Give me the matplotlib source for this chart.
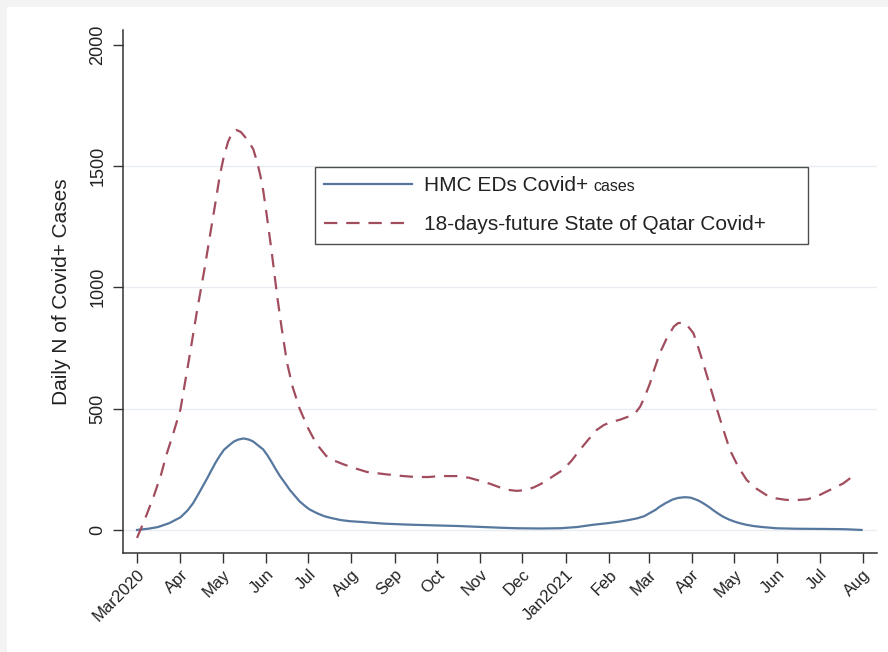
import matplotlib
matplotlib.use("Agg")
import matplotlib.pyplot as plt
from matplotlib.patches import Rectangle
import pandas as pd

# ---------------- data ----------------
hmc_dates = ["2020-03-01", "2020-03-09", "2020-03-16", "2020-03-24", "2020-04-01",
             "2020-04-06", "2020-04-10", "2020-04-14", "2020-04-17", "2020-04-20",
             "2020-04-23", "2020-04-26", "2020-04-29", "2020-05-02", "2020-05-06",
             "2020-05-09", "2020-05-12", "2020-05-16", "2020-05-20", "2020-05-23",
             "2020-05-26", "2020-05-30", "2020-06-02", "2020-06-05", "2020-06-08",
             "2020-06-11", "2020-06-15", "2020-06-18", "2020-06-22", "2020-06-25",
             "2020-06-29", "2020-07-02", "2020-07-06", "2020-07-09", "2020-07-13",
             "2020-07-17", "2020-07-24", "2020-07-31", "2020-08-08", "2020-08-24",
             "2020-09-10", "2020-09-28", "2020-10-17", "2020-11-03", "2020-11-16",
             "2020-11-27", "2020-12-13", "2020-12-28", "2021-01-09", "2021-01-20",
             "2021-01-31", "2021-02-09", "2021-02-15", "2021-02-21", "2021-02-26",
             "2021-03-02", "2021-03-06", "2021-03-09", "2021-03-13", "2021-03-18",
             "2021-03-22", "2021-03-27", "2021-03-31", "2021-04-03", "2021-04-06",
             "2021-04-09", "2021-04-13", "2021-04-16", "2021-04-19", "2021-04-23",
             "2021-04-27", "2021-05-01", "2021-05-05", "2021-05-10", "2021-05-15",
             "2021-05-21", "2021-05-31", "2021-06-14", "2021-07-06", "2021-07-19",
             "2021-07-31"]
hmc_values = [0, 5, 12, 28, 52,
              80, 110, 150, 181, 212,
              245, 277, 305, 330, 350,
              364, 372, 377, 372, 364,
              350, 332, 308, 280, 250,
              222, 190, 165, 138, 118,
              98, 85, 73, 65, 56,
              50, 41, 36, 33, 26,
              22, 19, 16, 12, 9,
              7, 6, 7, 12, 21,
              28, 35, 41, 48, 57,
              70, 83, 96, 110, 125,
              132, 135, 133, 127, 120,
              110, 95, 82, 70, 55,
              44, 35, 28, 21, 16,
              12, 7, 5, 4, 3,
              0]

qatar_dates = ["2020-03-01", "2020-03-07", "2020-03-13", "2020-03-18", "2020-03-22",
               "2020-03-27", "2020-04-01", "2020-04-07", "2020-04-13", "2020-04-18",
               "2020-04-22", "2020-04-26", "2020-04-29", "2020-05-02", "2020-05-05",
               "2020-05-08", "2020-05-11", "2020-05-14", "2020-05-17", "2020-05-20",
               "2020-05-23", "2020-05-26", "2020-05-28", "2020-05-30", "2020-06-01",
               "2020-06-05", "2020-06-09", "2020-06-12", "2020-06-16", "2020-06-20",
               "2020-06-25", "2020-07-01", "2020-07-07", "2020-07-14", "2020-07-20",
               "2020-07-26", "2020-08-03", "2020-08-12", "2020-08-26", "2020-09-07",
               "2020-09-16", "2020-09-25", "2020-10-03", "2020-10-15", "2020-10-24",
               "2020-11-01", "2020-11-08", "2020-11-15", "2020-11-21", "2020-11-27",
               "2020-12-03", "2020-12-09", "2020-12-16", "2020-12-23", "2020-12-30",
               "2021-01-05", "2021-01-11", "2021-01-17", "2021-01-23", "2021-01-28",
               "2021-02-01", "2021-02-09", "2021-02-16", "2021-02-20", "2021-02-23",
               "2021-02-26", "2021-03-02", "2021-03-05", "2021-03-09", "2021-03-14",
               "2021-03-19", "2021-03-22", "2021-03-26", "2021-03-29", "2021-04-02",
               "2021-04-05", "2021-04-09", "2021-04-14", "2021-04-19", "2021-04-23",
               "2021-04-28", "2021-05-04", "2021-05-10", "2021-05-17", "2021-05-24",
               "2021-05-31", "2021-06-07", "2021-06-14", "2021-06-22", "2021-06-29",
               "2021-07-06", "2021-07-12", "2021-07-18", "2021-07-26"]
qatar_values = [-33, 50, 140, 225, 310,
                400, 497, 700, 909, 1070,
                1211, 1350, 1458, 1540, 1600,
                1638, 1648, 1640, 1620, 1598,
                1568, 1510, 1460, 1400, 1321,
                1150, 964, 840, 690, 590,
                500, 420, 355, 305, 285,
                271, 255, 239, 229, 222,
                218, 218, 222, 222, 215,
                202, 190, 175, 165, 161,
                164, 175, 195, 222, 248,
                285, 330, 372, 412, 432,
                442, 455, 470, 485, 508,
                545, 604, 660, 728, 790,
                838, 852, 855, 840, 811,
                760, 687, 590, 494, 420,
                330, 260, 206, 170, 144,
                130, 124, 123, 126, 138,
                158, 175, 192, 227]

tick_dates = ["2020-03-01", "2020-04-01", "2020-05-01", "2020-06-01", "2020-07-01",
              "2020-08-01", "2020-09-01", "2020-10-01", "2020-11-01", "2020-12-01",
              "2021-01-01", "2021-02-01", "2021-03-01", "2021-04-01", "2021-05-01",
              "2021-06-01", "2021-07-01", "2021-08-01"]
tick_labels = ["Mar2020", "Apr", "May", "Jun", "Jul", "Aug", "Sep", "Oct", "Nov",
               "Dec", "Jan2021", "Feb", "Mar", "Apr", "May", "Jun", "Jul", "Aug"]
y_ticks = [0, 500, 1000, 1500, 2000]
grid_values = [0, 500, 1000, 1500]

series1_label = "HMC EDs Covid+"
series1_suffix = "cases"
series2_label = "18-days-future State of Qatar Covid+"
y_label = "Daily N of Covid+ Cases"

# ---------------- plotting ----------------
plt.rcParams["font.family"] = ["Liberation Sans", "DejaVu Sans"]

W, H = 888, 652
fig = plt.figure(figsize=(W / 100, H / 100), dpi=100)
fig.patch.set_facecolor("#f3f3f3")
fig.patches.append(Rectangle((7 / W, 0), 1, 1 - 7 / H, transform=fig.transFigure,
                             facecolor="white", edgecolor="none", zorder=-10))

ax = fig.add_axes([123 / W, 1 - 553 / H, (877 - 123) / W, (553 - 30) / H])
ax.set_facecolor("none")

blue = "#56779e"
red = "#a24d5e"

hd = pd.to_datetime(hmc_dates)
qd = pd.to_datetime(qatar_dates)

l1, = ax.plot(hd, hmc_values, color=blue, lw=1.6, solid_joinstyle="round",
              label=series1_label)
l2, = ax.plot(qd, qatar_values, color=red, lw=1.6, dashes=(6, 4),
              dash_joinstyle="round", label=series2_label)

for g in grid_values:
    ax.axhline(g, color="#e9edf1", lw=1.0, zorder=0)

ax.set_xlim(pd.Timestamp("2020-02-20"), pd.Timestamp("2021-08-11"))
ax.set_ylim(-95, 2060)

ax.set_xticks(pd.to_datetime(tick_dates))
ax.set_xticklabels(tick_labels, rotation=45, ha="right", rotation_mode="anchor",
                   fontsize=12, color="#222222")
ax.set_yticks(y_ticks)
ax.set_yticklabels([str(v) for v in y_ticks], rotation=90, va="center",
                   fontsize=13, color="#222222")
ax.tick_params(axis="x", length=7, width=1, color="#333333", pad=3)
ax.tick_params(axis="y", length=7, width=1, color="#333333", pad=5)

for s in ["top", "right"]:
    ax.spines[s].set_visible(False)
for s in ["left", "bottom"]:
    ax.spines[s].set_color("#333333")
    ax.spines[s].set_linewidth(1.1)

ax.set_ylabel(y_label, fontsize=15, color="#222222", labelpad=13)

leg = ax.legend(handles=[l1, l2], loc="upper left",
                bbox_to_anchor=((315 - 123) / 754, (553 - 238) / 523,
                                (808 - 315) / 754, (238 - 167) / 523),
                mode="expand", fontsize=15, frameon=True, fancybox=False,
                edgecolor="#222222", handlelength=4.2, handletextpad=0.6,
                borderpad=0.45, labelspacing=0.95, borderaxespad=0)
leg.get_frame().set_linewidth(1.0)
for t in leg.get_texts():
    t.set_color("#222222")

# small "cases" suffix after the first legend label
fig.canvas.draw()
t0 = leg.get_texts()[0]
bb = t0.get_window_extent()
inv = fig.transFigure.inverted()
x_end, y_base = inv.transform((bb.x1, bb.y0))
fig.text(x_end + 5 / W, y_base + 4 / H, series1_suffix, fontsize=11.5,
         color="#222222", ha="left", va="baseline")

fig.savefig("out.png", dpi=100)
